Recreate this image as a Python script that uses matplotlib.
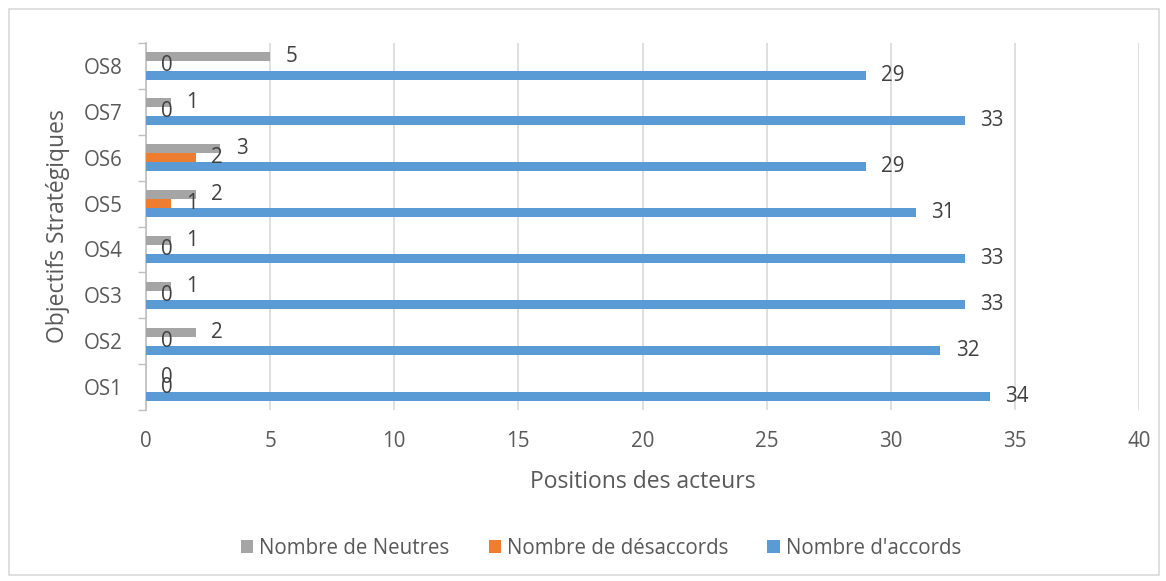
import matplotlib
matplotlib.use("Agg")
import matplotlib.pyplot as plt
import numpy as np
from matplotlib.patches import Rectangle

# donnees
categories = ["OS1", "OS2", "OS3", "OS4", "OS5", "OS6", "OS7", "OS8"]
accords = [34, 32, 33, 33, 31, 29, 33, 29]
desaccords = [0, 0, 0, 0, 1, 2, 0, 0]
neutres = [0, 2, 1, 1, 2, 3, 1, 5]

plt.rcParams['font.family'] = ['Open Sans', 'DejaVu Sans']
txt = "#595959"
fs = 14.8

fig = plt.figure(figsize=(11.66, 5.81), dpi=100)
ax = fig.add_axes([146/1166, 1-410/581, (1139-146)/1166, (410-43)/581])

y = np.arange(len(categories))
h = 0.196
series = [
    (neutres, "#a5a5a5", "Nombre de Neutres", 0.2),
    (desaccords, "#ed7d31", "Nombre de désaccords", 0.0),
    (accords, "#5b9bd5", "Nombre d'accords", -0.2),
]
for vals, col, lab, off in series:
    ax.barh(y + off, vals, height=h, color=col, label=lab, zorder=3)
    for yi, v in zip(y, vals):
        ax.annotate(str(v), (v, yi + off), xytext=(11, 0), textcoords="offset points",
                    ha="left", va="center", fontsize=fs, color="#404040", zorder=4)

ax.set_xlim(0, 40)
ax.set_ylim(-0.5, len(categories) - 0.5)
ax.set_xticks(range(0, 41, 5))
ax.set_yticks(y)
ax.set_yticklabels(categories)
ax.set_yticks(np.arange(-0.5, len(categories), 1), minor=True)
ax.tick_params(axis="y", which="major", length=0, pad=17, labelsize=fs, labelcolor=txt)
ax.tick_params(axis="y", which="minor", length=6, color="#bfbfbf", width=1)
ax.tick_params(axis="x", length=0, pad=15, labelsize=fs, labelcolor=txt)
ax.grid(axis="x", color="#d9d9d9", linewidth=1.2, zorder=0)
for s in ["top", "right", "bottom"]:
    ax.spines[s].set_visible(False)
ax.spines["left"].set_color("#bfbfbf")
ax.spines["left"].set_linewidth(1.2)

ax.set_xlabel("Positions des acteurs", fontsize=16.5, color=txt, labelpad=13)
ax.set_ylabel("Objectifs Stratégiques", fontsize=16.5, color=txt, labelpad=10)

handles, labels = ax.get_legend_handles_labels()
fig.legend(handles, labels, loc="center", bbox_to_anchor=(601/1166, 1-548/581), ncol=3,
           frameon=False, fontsize=fs, handlelength=0.6, handleheight=0.6,
           handletextpad=0.3, columnspacing=1.9, labelcolor=txt)

fig.patches.append(Rectangle((9/1166, 6/581), 1150/1166, 566/581, transform=fig.transFigure,
                             fill=False, edgecolor="#d9d9d9", linewidth=1.2))

fig.savefig("out.png", dpi=100)
